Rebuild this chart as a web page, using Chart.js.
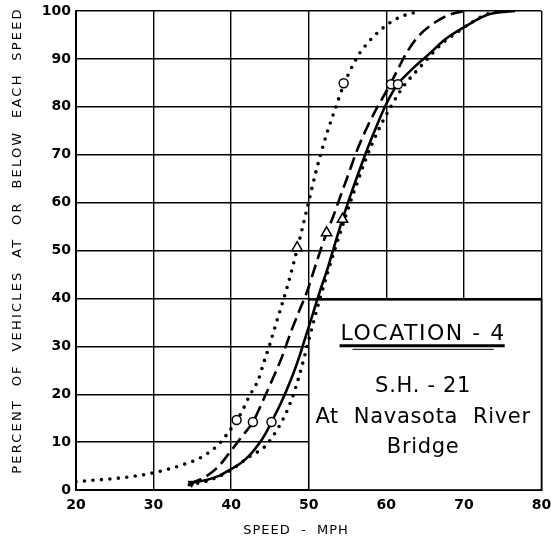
<!DOCTYPE html>
<html><head><meta charset="utf-8">
<script src="https://cdn.jsdelivr.net/npm/chart.js@4/dist/chart.umd.min.js"></script>
<style>html,body{margin:0;padding:0;background:#fff}#wrap{width:551px;height:552px}</style>
</head><body><div id="wrap"><canvas id="c" width="551" height="552"></canvas></div>
<script>
// ---- Data ----
const speedTicks = [20, 30, 40, 50, 60, 70, 80];
const percentTicks = [0, 10, 20, 30, 40, 50, 60, 70, 80, 90, 100];

// Left dotted curve
const dottedLeftSpeed = [20, 22, 25, 28, 30, 32, 34, 36, 37.9, 38.7, 39.4, 40.2, 41.4, 42.3, 43.5, 44.2, 45.0, 45.7, 46.5, 47.3, 48.2, 49.0, 49.7, 50.3, 50.9, 51.7, 52.4, 53.4, 54.5, 55.6, 56.6, 57.6, 58.3, 59.1, 59.9, 60.9, 62.0, 63.0, 64.2];
const dottedLeftPct   = [1.7, 2.0, 2.4, 3.0, 3.6, 4.4, 5.4, 6.7, 8.8, 10.1, 11.5, 13.3, 16.4, 19.5, 23, 26.6, 30.5, 34.3, 38.5, 42.8, 48.3, 53.5, 58.2, 62.3, 66.3, 71, 74.8, 79.5, 84.6, 88.4, 91.3, 93.3, 94.6, 95.8, 96.9, 98, 98.9, 99.4, 99.8];

// Dashed curve
const dashedSpeed = [34.6, 36.5, 38.3, 39.8, 41.3, 42.8, 44.0, 45.3, 46.6, 47.7, 48.8, 49.8, 50.7, 51.5, 52.3, 53.1, 54.1, 55.2, 56.1, 57.4, 58.5, 59.6, 60.6, 61.6, 62.7, 64.0, 65.9, 68.1, 70.0];
const dashedPct   = [1.3, 2.6, 4.8, 7.8, 11, 14.2, 18.3, 23, 28, 33, 37.5, 41.5, 46, 50, 53.7, 56.9, 61.4, 66.3, 70.4, 75.3, 78.9, 82.1, 85.0, 88.2, 91.5, 94.5, 97.2, 99.2, 100];

// Solid curve
const solidSpeed = [34.7, 36.8, 38.5, 39.8, 41.2, 42.4, 43.65, 44.5, 45.2, 46.4, 47.7, 48.8, 49.65, 50.5, 51.4, 52.5, 53.4, 54.35, 55.4, 56.5, 57.6, 58.7, 59.7, 60.6, 61.5, 62.6, 63.8, 65.5, 67.6, 70.0, 73.2, 76.6];
const solidPct   = [1.5, 2.1, 3.0, 4.2, 5.6, 7.3, 9.8, 12, 14.2, 18.1, 23, 27.9, 32.3, 36.6, 41.3, 46.6, 51.5, 56.5, 61.6, 66.6, 71.4, 75.8, 79.6, 82.5, 84.8, 86.7, 88.6, 91, 94.1, 96.6, 99.3, 100];

// Right dotted curve
const dottedRightSpeed = [34.6, 36.8, 39.8, 42.4, 44.3, 45.4, 46.4, 47.3, 48.1, 48.8, 49.6, 50.5, 51.4, 52.4, 53.4, 54.4, 55.3, 56.3, 57.2, 58.2, 59.3, 60.5, 61.6, 62.5, 63.4, 64.3, 65.5, 67.4, 69.2, 71.0, 73.2, 75.0];
const dottedRightPct   = [1.1, 1.8, 4.0, 7.0, 9.0, 11.3, 13.9, 16.9, 20.3, 24.0, 28.8, 34.4, 39.7, 45.2, 50.4, 55.4, 59.8, 64.4, 68.4, 72.4, 76.2, 79.8, 82.8, 84.9, 86.6, 88.2, 90.4, 93.5, 95.6, 97.6, 99.5, 100];

// Open markers
const circleSpeed   = [40.7, 42.8, 45.2, 54.5, 60.6, 61.5];
const circlePct     = [14.6, 14.2, 14.2, 84.9, 84.7, 84.7];
const triangleSpeed = [48.5, 52.3, 54.35];
const trianglePct   = [50.6, 53.7, 56.5];
const startSpeed    = [34.9];
const startPct      = [1.4];

// Label box
const boxSpeedRange = [50, 80];
const boxPctRange   = [0, 39.7];
const boxLines = ['LOCATION - 4', 'S.H. - 21', 'At  Navasota  River', 'Bridge'];
const xTitle = 'SPEED  -  MPH';
const yTitle = 'PERCENT  OF  VEHICLES  AT  OR  BELOW  EACH  SPEED';

const pts = (xs, ys) => xs.map((v, i) => ({x: v, y: ys[i]}));

const FONT = '"DejaVu Sans", "Liberation Sans", sans-serif';

const annot = {
  id: 'annot',
  beforeDatasetsDraw(chart) {
    const {ctx, scales: {x, y}} = chart;
    const l = x.getPixelForValue(boxSpeedRange[0]), r = x.getPixelForValue(boxSpeedRange[1]);
    const t = y.getPixelForValue(boxPctRange[1]), b = y.getPixelForValue(boxPctRange[0]);
    ctx.save();
    ctx.fillStyle = '#fff';
    ctx.fillRect(l, t, r - l, b - t);
    ctx.strokeStyle = '#000';
    ctx.lineWidth = 1.6;
    ctx.strokeRect(l, t, r - l, b - t);
    const cx = (l + r) / 2 - 2;
    ctx.fillStyle = '#000';
    ctx.textAlign = 'center';
    ctx.textBaseline = 'middle';
    ctx.font = '22px ' + FONT;
    ctx.letterSpacing = '1.5px';
    ctx.fillText(boxLines[0], cx, t + 34);
    const w = ctx.measureText(boxLines[0]).width;
    ctx.lineWidth = 3;
    ctx.beginPath();
    ctx.moveTo(cx - w / 2 - 1, t + 46);
    ctx.lineTo(cx + w / 2 - 1, t + 46);
    ctx.stroke();
    ctx.lineWidth = 1;
    ctx.beginPath();
    ctx.moveTo(cx - w / 2 + 12, t + 49.5);
    ctx.lineTo(cx + w / 2 - 12, t + 49.5);
    ctx.stroke();
    ctx.font = '21px ' + FONT;
    ctx.letterSpacing = '0.7px';
    ctx.fillText(boxLines[1], cx, t + 87);
    ctx.fillText(boxLines[2], cx, t + 118);
    ctx.fillText(boxLines[3], cx, t + 148);
    ctx.restore();
  },
  afterDraw(chart) {
    const {ctx, chartArea} = chart;
    ctx.save();
    ctx.fillStyle = '#000';
    ctx.textAlign = 'center';
    ctx.textBaseline = 'middle';
    ctx.font = '13px ' + FONT;
    ctx.letterSpacing = '1px';
    ctx.fillText(xTitle, 296, 531);
    ctx.letterSpacing = '2.2px';
    ctx.translate(18, (chartArea.top + chartArea.bottom) / 2 - 10);
    ctx.rotate(-Math.PI / 2);
    ctx.fillText(yTitle, 0, 0);
    ctx.restore();
  }
};

const curve = (data, extra) => Object.assign({
  data, showLine: true, pointRadius: 0, borderColor: '#000', backgroundColor: '#000',
  borderWidth: 2.5, fill: false, cubicInterpolationMode: 'monotone'
}, extra);

new Chart(document.getElementById('c'), {
  type: 'scatter',
  data: {
    datasets: [
      {data: pts(circleSpeed, circlePct), pointStyle: 'circle', pointRadius: 4.5,
       pointBackgroundColor: '#fff', pointBorderColor: '#000', pointBorderWidth: 1.5, showLine: false},
      {data: pts(triangleSpeed, trianglePct), pointStyle: 'triangle', pointRadius: 6,
       pointBackgroundColor: '#fff', pointBorderColor: '#000', pointBorderWidth: 1.5, showLine: false},
      {data: pts(startSpeed, startPct), pointStyle: 'triangle', pointRotation: 180, pointRadius: 4,
       pointBackgroundColor: '#000', pointBorderColor: '#000', pointBorderWidth: 1, showLine: false},
      curve(pts(solidSpeed, solidPct), {borderWidth: 2.6}),
      curve(pts(dashedSpeed, dashedPct), {borderWidth: 2.6, borderDash: [13, 6]}),
      curve(pts(dottedLeftSpeed, dottedLeftPct), {borderWidth: 3.6, borderDash: [0, 8.5], borderCapStyle: 'round'}),
      curve(pts(dottedRightSpeed, dottedRightPct), {borderWidth: 3.6, borderDash: [0, 8.5], borderCapStyle: 'round'})
    ]
  },
  options: {
    responsive: false,
    animation: false,
    events: [],
    layout: {padding: {top: 11, right: 9.5, bottom: 0, left: 0}},
    plugins: {legend: {display: false}, tooltip: {enabled: false}},
    scales: {
      x: {
        type: 'linear', min: 20, max: 80,
        afterBuildTicks: s => { s.ticks = speedTicks.map(v => ({value: v})); },
        afterFit: s => { s.height = 62; s.paddingLeft = 0; s.paddingRight = 0; },
        grid: {color: '#000', lineWidth: 1.4, drawTicks: false},
        border: {color: '#000', width: 2},
        ticks: {color: '#000', padding: 7, font: {family: FONT, size: 14, weight: 'bold'}, maxRotation: 0}
      },
      y: {
        type: 'linear', min: 0, max: 100,
        afterBuildTicks: s => { s.ticks = percentTicks.map(v => ({value: v})); },
        afterFit: s => { s.width = 76; s.paddingTop = 0; s.paddingBottom = 0; },
        grid: {color: '#000', lineWidth: 1.4, drawTicks: false},
        border: {color: '#000', width: 2},
        ticks: {color: '#000', padding: 5, font: {family: FONT, size: 14, weight: 'bold'}}
      }
    }
  },
  plugins: [annot]
});
</script>
</body></html>
